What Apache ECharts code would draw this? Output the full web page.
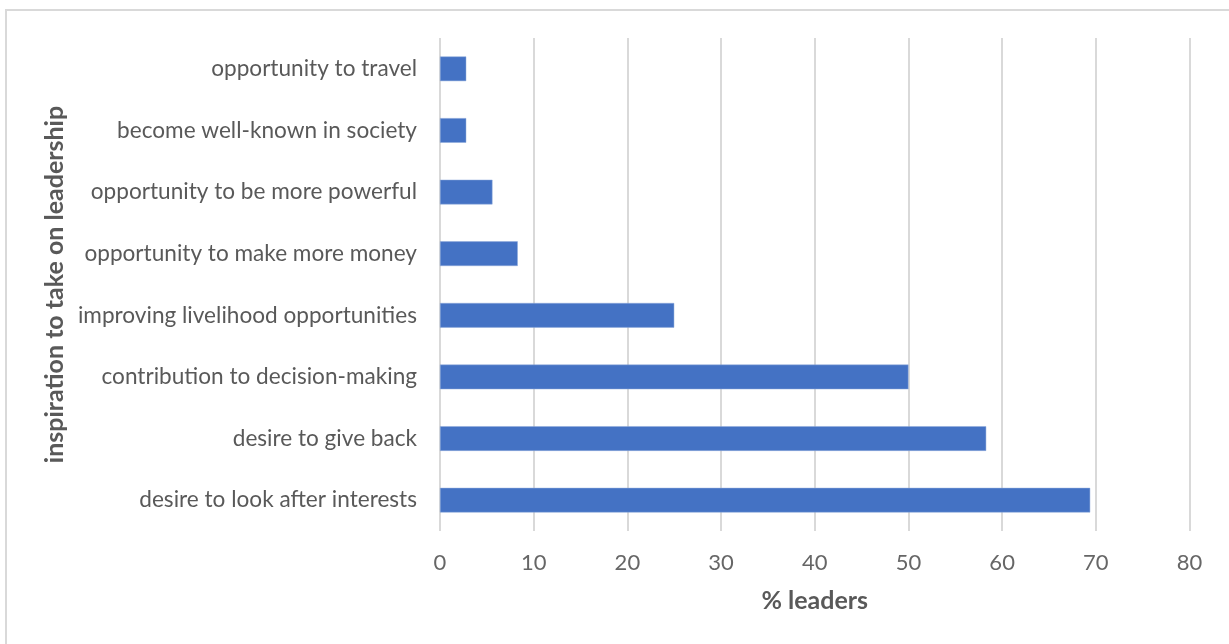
<!DOCTYPE html>
<html>
<head>
<meta charset="utf-8">
<style>
  html, body { margin: 0; padding: 0; background: #ffffff; }
  #chart { width: 1229px; height: 644px; }
</style>
<script src="https://cdn.jsdelivr.net/npm/echarts@6/dist/echarts.min.js"></script>
</head>
<body>
<div id="chart"></div>
<script>
// Reasons given for taking on leadership (top to bottom)
const categories = [
  'opportunity to travel',
  'become well-known in society',
  'opportunity to be more powerful',
  'opportunity to make more money',
  'improving livelihood opportunities',
  'contribution to decision-making',
  'desire to give back',
  'desire to look after interests'
];
// Share of leaders citing each reason (%)
const leaderShare = [2.8, 2.8, 5.6, 8.3, 25.0, 50.0, 58.3, 69.4];
const xTicks = { min: 0, max: 80, interval: 10 };

const font = 'Lato, "Open Sans", sans-serif';
const textColor = '#595959';

const chart = echarts.init(document.getElementById('chart'), null, { renderer: 'canvas' });
chart.setOption({
  backgroundColor: '#ffffff',
  animation: false,
  graphic: [{
    type: 'polyline',
    shape: { points: [[6, 660], [6, 10], [1240, 10]] },
    style: { stroke: '#d9d9d9', lineWidth: 2, fill: null },
    silent: true
  }],
  grid: { left: 440, right: 39.5, top: 38, bottom: 113, containLabel: false },
  xAxis: {
    type: 'value',
    min: xTicks.min,
    max: xTicks.max,
    interval: xTicks.interval,
    name: '% leaders',
    nameLocation: 'middle',
    nameGap: 57,
    nameTextStyle: { color: textColor, fontFamily: font, fontSize: 25, fontWeight: 'bold', verticalAlign: 'top' },
    axisLine: { show: false },
    axisTick: { show: false },
    axisLabel: { color: '#666666', fontFamily: font, fontSize: 22, margin: 21 },
    splitLine: { show: true, lineStyle: { color: '#d9d9d9', width: 2 } }
  },
  yAxis: {
    type: 'category',
    data: categories,
    inverse: true,
    name: 'inspiration to take on leadership',
    nameLocation: 'middle',
    nameGap: 369,
    nameRotate: 90,
    nameTextStyle: { color: textColor, fontFamily: font, fontSize: 25, fontWeight: 'bold' },
    axisLine: { show: false },
    axisTick: { show: false },
    axisLabel: { color: textColor, fontFamily: font, fontSize: 22.6, margin: 23 },
    splitLine: { show: false }
  },
  series: [{
    type: 'bar',
    data: leaderShare,
    barWidth: '40%',
    itemStyle: { color: '#4472c4', borderColor: '#8eaadb', borderWidth: 0.5 },
    silent: true
  }]
});
</script>
</body>
</html>
